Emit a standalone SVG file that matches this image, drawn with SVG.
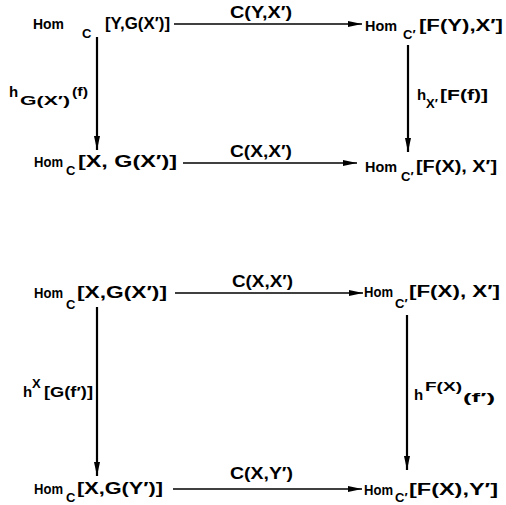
<svg xmlns="http://www.w3.org/2000/svg" width="506" height="505" viewBox="0 0 506 505">
<defs>
<marker id="ah" markerUnits="userSpaceOnUse" markerWidth="14" markerHeight="6" refX="14" refY="3" orient="auto">
<path d="M0,0 L14,3 L0,6 z" fill="#000"/>
</marker>
<style>
text{font-family:"Liberation Sans",Arial,sans-serif;font-weight:bold;fill:#000}
.m{font-size:16px}
.o{font-size:15px}
.s{font-size:13px}
.h{stroke:#000;stroke-width:1.5;fill:none}
.v{stroke:#000;stroke-width:2.2;fill:none}
</style>
</defs>
<rect width="506" height="505" fill="#fff"/>
<g id="connectors">
<line class="h" x1="174" y1="24" x2="362" y2="24" marker-end="url(#ah)"/>
<line class="h" x1="183" y1="163" x2="357" y2="163" marker-end="url(#ah)"/>
<line class="v" x1="97" y1="37" x2="97" y2="150" marker-end="url(#ah)"/>
<line class="v" x1="408" y1="45" x2="408" y2="152" marker-end="url(#ah)"/>
<line class="h" x1="175" y1="293" x2="363" y2="293" marker-end="url(#ah)"/>
<line class="h" x1="173" y1="489" x2="362" y2="489" marker-end="url(#ah)"/>
<line class="v" x1="97" y1="307" x2="97" y2="476" marker-end="url(#ah)"/>
<line class="v" x1="407" y1="315" x2="407" y2="470" marker-end="url(#ah)"/>
</g>
<g id="edge-labels">
<text class="m" x="230" y="18" textLength="62" lengthAdjust="spacingAndGlyphs">C(Y,X′)</text>
<text class="m" x="230" y="157" textLength="62" lengthAdjust="spacingAndGlyphs">C(X,X′)</text>
<text class="m" x="232" y="287" textLength="61" lengthAdjust="spacingAndGlyphs">C(X,X′)</text>
<text class="m" x="230" y="479" textLength="63" lengthAdjust="spacingAndGlyphs">C(X,Y′)</text>
<text class="o" x="9" y="97">h</text>
<text class="s" x="20" y="105" textLength="50" lengthAdjust="spacingAndGlyphs">G(X′)</text>
<text class="s" x="72" y="96" textLength="16" lengthAdjust="spacingAndGlyphs">(f)</text>
<text class="o" x="417" y="100">h</text>
<text class="s" x="426" y="108">X′</text>
<text class="o" x="440" y="100" textLength="48" lengthAdjust="spacingAndGlyphs">[F(f)]</text>
<text class="o" x="23" y="397">h</text>
<text class="s" x="32" y="388">X</text>
<text class="o" x="44" y="397" textLength="49" lengthAdjust="spacingAndGlyphs">[G(f′)]</text>
<text class="o" x="414" y="400">h</text>
<text class="s" x="425" y="391" textLength="37" lengthAdjust="spacingAndGlyphs">F(X)</text>
<text class="s" x="463" y="402" textLength="32" lengthAdjust="spacingAndGlyphs">(f′)</text>
</g>
<g id="node-d1-tl">
<text class="o" x="33" y="29" textLength="31" lengthAdjust="spacingAndGlyphs">Hom</text>
<text class="s" x="82" y="38">C</text>
<text class="m" x="105" y="29" textLength="65" lengthAdjust="spacingAndGlyphs">[Y,G(X′)]</text>
</g>
<g id="node-d1-tr">
<text class="o" x="365" y="31" textLength="32" lengthAdjust="spacingAndGlyphs">Hom</text>
<text class="s" x="403" y="39">C′</text>
<text class="m" x="419" y="31" textLength="84" lengthAdjust="spacingAndGlyphs">[F(Y),X′]</text>
</g>
<g id="node-d1-bl">
<text class="o" x="34" y="167" textLength="29" lengthAdjust="spacingAndGlyphs">Hom</text>
<text class="s" x="66" y="175">C</text>
<text class="m" x="78" y="167" textLength="99" lengthAdjust="spacingAndGlyphs">[X, G(X′)]</text>
</g>
<g id="node-d1-br">
<text class="o" x="365" y="172" textLength="32" lengthAdjust="spacingAndGlyphs">Hom</text>
<text class="s" x="401" y="181">C′</text>
<text class="m" x="416" y="172" textLength="81" lengthAdjust="spacingAndGlyphs">[F(X), X′]</text>
</g>
<g id="node-d2-tl">
<text class="o" x="34" y="298" textLength="29" lengthAdjust="spacingAndGlyphs">Hom</text>
<text class="s" x="66" y="309">C</text>
<text class="m" x="77" y="298" textLength="90" lengthAdjust="spacingAndGlyphs">[X,G(X′)]</text>
</g>
<g id="node-d2-tr">
<text class="o" x="364" y="297" textLength="29" lengthAdjust="spacingAndGlyphs">Hom</text>
<text class="s" x="395" y="308">C′</text>
<text class="m" x="409" y="297" textLength="91" lengthAdjust="spacingAndGlyphs">[F(X), X′]</text>
</g>
<g id="node-d2-bl">
<text class="o" x="34" y="494" textLength="29" lengthAdjust="spacingAndGlyphs">Hom</text>
<text class="s" x="66" y="502">C</text>
<text class="m" x="77" y="494" textLength="86" lengthAdjust="spacingAndGlyphs">[X,G(Y′)]</text>
</g>
<g id="node-d2-br">
<text class="o" x="364" y="495" textLength="29" lengthAdjust="spacingAndGlyphs">Hom</text>
<text class="s" x="395" y="502">C′</text>
<text class="m" x="409" y="495" textLength="89" lengthAdjust="spacingAndGlyphs">[F(X),Y′]</text>
</g>
</svg>
